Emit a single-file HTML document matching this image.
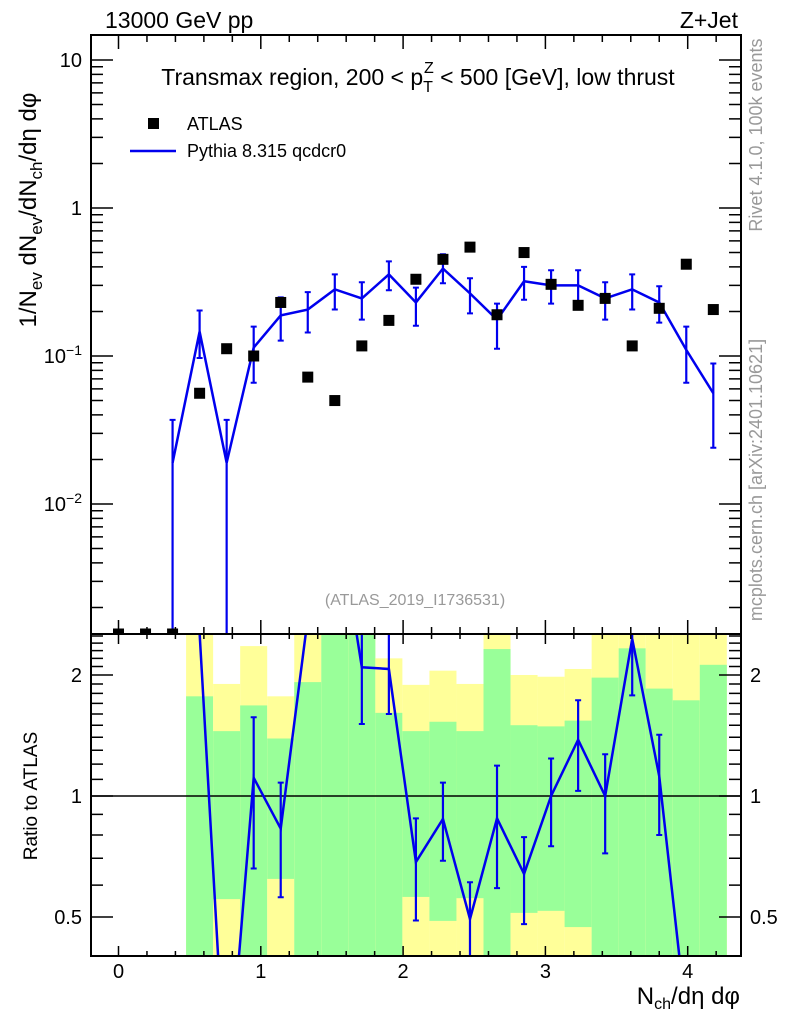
<!DOCTYPE html>
<html><head><meta charset="utf-8">
<style>
html,body{margin:0;padding:0;background:#fff;overflow:hidden;}
svg{display:block;font-family:"Liberation Sans",sans-serif;}
</style></head>
<body>
<svg id="chart" width="786" height="1024" viewBox="0 0 786 1024" xmlns="http://www.w3.org/2000/svg">
<defs>
<clipPath id="clipMain"><rect x="91" y="35" width="650" height="599"/></clipPath>
<clipPath id="clipRatio"><rect x="91" y="634" width="650" height="322"/></clipPath>
</defs>
<text x="105" y="28" font-size="23">13000 GeV pp</text>
<text x="738" y="28" font-size="23" text-anchor="end">Z+Jet</text>
<g id="ratioBands" clip-path="url(#clipRatio)"></g>
<g id="mainMarks" clip-path="url(#clipMain)"></g>
<g id="ratioMarks" clip-path="url(#clipRatio)"></g>
<g id="axes"></g>
<text x="418" y="85" font-size="23" text-anchor="middle">Transmax region, 200 &lt; p<tspan font-size="16" dy="7">T</tspan><tspan font-size="16" dx="-9" dy="-19">Z</tspan><tspan dy="12"> &lt; 500 [GeV], low thrust</tspan></text>
<rect x="148" y="118" width="11" height="11" fill="#000"/>
<text x="187" y="130" font-size="18">ATLAS</text>
<line x1="130" y1="151" x2="176" y2="151" stroke="#0000ee" stroke-width="2.5"/>
<text x="187" y="157" font-size="18">Pythia 8.315 qcdcr0</text>
<text x="415" y="605" font-size="16" fill="#999" text-anchor="middle">(ATLAS_2019_I1736531)</text>
<text transform="translate(36,210) rotate(-90)" font-size="24" text-anchor="middle">1/N<tspan font-size="17" dy="6">ev</tspan><tspan dy="-6"> dN</tspan><tspan font-size="17" dy="6">ev</tspan><tspan dy="-6">/dN</tspan><tspan font-size="17" dy="6">ch</tspan><tspan dy="-6">/dη dφ</tspan></text>
<text transform="translate(37,796) rotate(-90)" font-size="19" text-anchor="middle">Ratio to ATLAS</text>
<text x="740" y="1004" font-size="24" text-anchor="end">N<tspan font-size="16" dy="5">ch</tspan><tspan dy="-5">/dη dφ</tspan></text>
<text transform="translate(762,135) rotate(-90)" font-size="18" fill="#999" text-anchor="middle">Rivet 4.1.0,  100k events</text>
<text transform="translate(762,480) rotate(-90)" font-size="18" fill="#999" text-anchor="middle">mcplots.cern.ch [arXiv:2401.10621]</text>
</svg>
<script>
// ---- data ----
const binStep = 0.19;
const atlasIndex = [0,1,2,3,4,5,6,7,8,9,10,11,12,13,14,15,16,17,18,19,20,21,22];
const atlasValues = [0,0,0,0.056,0.112,0.10,0.23,0.072,0.05,0.117,0.174,0.33,0.45,0.544,0.19,0.50,0.305,0.22,0.245,0.117,0.21,0.417,0.206];
const pythiaIndex = [2,3,4,5,6,7,8,9,10,11,12,13,14,15,16,17,18,19,20,21,22];
const pythiaValues = [0.019,0.146,0.019,0.114,0.188,0.206,0.282,0.245,0.356,0.23,0.39,0.265,0.176,0.32,0.30,0.30,0.245,0.282,0.23,0.110,0.056];
const pythiaErrHi = [0.037,0.203,0.037,0.158,0.249,0.27,0.356,0.315,0.436,0.29,0.487,0.335,0.226,0.40,0.38,0.38,0.315,0.356,0.296,0.158,0.089];
const pythiaErrLo = [0.0001,0.097,0.0001,0.066,0.127,0.144,0.206,0.176,0.278,0.16,0.31,0.194,0.112,0.24,0.226,0.226,0.176,0.206,0.168,0.066,0.024];
const bandIndex = [3,4,5,6,7,8,9,10,11,12,13,14,15,16,17,18,19,20,21,22];
const yellowHi = [3,1.90,2.36,1.77,3,3,3,2.20,1.89,2.05,1.90,3,2.00,1.98,2.07,3,3,3,3,3];
const greenHi = [1.77,1.45,1.68,1.39,1.92,3,3,1.61,1.45,1.53,1.45,2.32,1.50,1.49,1.54,1.97,2.33,1.85,1.73,2.12];
const greenLo = [0.3,0.554,0.3,0.622,0.3,0.3,0.3,0.3,0.561,0.489,0.557,0.3,0.512,0.518,0.472,0.3,0.3,0.3,0.3,0.3];
const yellowLo = [0.3,0.3,0.3,0.3,0.3,0.3,0.3,0.3,0.3,0.3,0.3,0.3,0.3,0.3,0.3,0.3,0.3,0.3,0.3,0.3];
const ratioIndex = [3,4,5,6,7,8,9,10,11,12,13,14,15,16,17,18,19,20,21,22];
const ratioValues = [2.54,0.17,1.11,0.83,2.77,5.6,2.09,2.07,0.685,0.877,0.494,0.88,0.64,1.0,1.38,1.0,2.46,1.12,0.28,0.27];
const ratioErrHi = [null,null,1.57,1.08,null,null,3,3,0.88,1.08,0.61,1.19,0.79,1.24,1.73,1.27,3,1.42,null,null];
const ratioErrLo = [null,null,0.66,0.56,null,null,1.51,1.60,0.49,0.69,0.3,0.59,0.48,0.75,1.03,0.72,1.78,0.80,null,null];
const xTickLabels = ["0","1","2","3","4"];
const yMainTicks = [10,1,0.1,0.01];
const yMainTickLabels = ["10","1","10^-1","10^-2"];
const yRatioTicks = [2,1,0.5];
const yRatioTickLabels = ["2","1","0.5"];

// ---- scales ----
const X0 = 118.5, XU = 142.3;
function xs(v){ return X0 + v*XU; }
function ym(v){ return 208 - 148*Math.log10(v); }
function yr(v){ return 796 - 402*Math.log10(v); }
const L = 91, R = 741, T = 35, MID = 634, B = 956;
const NS = "http://www.w3.org/2000/svg";
function mk(parent, tag, attrs){
  const e = document.createElementNS(NS, tag);
  for (const k in attrs) e.setAttribute(k, attrs[k]);
  parent.appendChild(e);
  return e;
}
const gB = document.getElementById('ratioBands');
const gM = document.getElementById('mainMarks');
const gR = document.getElementById('ratioMarks');
const gA = document.getElementById('axes');

bandIndex.forEach((k,i)=>{
  const x1 = xs((k-0.5)*binStep), x2 = xs((k+0.5)*binStep);
  let e = mk(gB,'rect',{x:x1,y:yr(yellowHi[i]),width:x2-x1,height:yr(yellowLo[i])-yr(yellowHi[i]),fill:'#ffff99'});
  
  
  e = mk(gB,'rect',{x:x1,y:yr(greenHi[i]),width:x2-x1,height:yr(greenLo[i])-yr(greenHi[i]),fill:'#99ff99'});
  
  
});

pythiaIndex.forEach((k,i)=>{
  const x = xs(k*binStep);
  const y1 = ym(pythiaErrHi[i]), y2 = Math.min(ym(pythiaErrLo[i]), 700);
  let e = mk(gM,'line',{x1:x,x2:x,y1:y1,y2:y2,stroke:'#0000ee','stroke-width':2.2});
  
  
  e = mk(gM,'path',{d:`M${x-3},${y1}H${x+3}M${x-3},${y2}H${x+3}`,stroke:'#0000ee','stroke-width':2});
  
  
});
let pl = mk(gM,'polyline',{points:pythiaIndex.map((k,i)=>xs(k*binStep)+','+ym(pythiaValues[i])).join(' '),fill:'none',stroke:'#0000ee','stroke-width':2.5});


atlasIndex.forEach((k,i)=>{
  const v = atlasValues[i];
  const y = v>0 ? ym(v) : MID;
  const e = mk(gM,'rect',{x:xs(k*binStep)-5.5,y:y-5.5,width:11,height:11,fill:'#000'});
  
  
});
mk(gR,'line',{x1:L,x2:R,y1:yr(1),y2:yr(1),stroke:'#000','stroke-width':1.5});
ratioIndex.forEach((k,i)=>{
  if (ratioErrHi[i]==null) return;
  const x = xs(k*binStep);
  const y1 = yr(ratioErrHi[i]), y2 = yr(ratioErrLo[i]);
  let e = mk(gR,'line',{x1:x,x2:x,y1:y1,y2:y2,stroke:'#0000ee','stroke-width':2.2});
  
  
  e = mk(gR,'path',{d:`M${x-3},${y1}H${x+3}M${x-3},${y2}H${x+3}`,stroke:'#0000ee','stroke-width':2});
  
  
});
let rl = mk(gR,'polyline',{points:ratioIndex.map((k,i)=>xs(k*binStep)+','+yr(ratioValues[i])).join(' '),fill:'none',stroke:'#0000ee','stroke-width':2.5});



let f = mk(gA,'rect',{x:L,y:T,width:R-L,height:MID-T,fill:'none',stroke:'#000','stroke-width':2});


f = mk(gA,'rect',{x:L,y:MID,width:R-L,height:B-MID,fill:'none',stroke:'#000','stroke-width':2});



let d = '';
for (let i=-0.8;i<=4.41;i+=0.2){
  const v = Math.round(i*10)/10;
  if (v < -0.19 || v > 4.37) continue;
  const major = Math.abs(v-Math.round(v))<1e-6;
  const x = xs(v);
  const lm = major?14:7, lr = major?10:5;
  d += `M${x},${T}v${lm}M${x},${MID}v${-lm}M${x},${MID}v${lr}M${x},${B}v${-lr}`;
}
for (let e10=-3;e10<=1;e10++){
  for (let m=1;m<=9;m++){
    const v = m*Math.pow(10,e10);
    const y = ym(v);
    if (y < T || y > MID) continue;
    const len = m===1?22:12;
    d += `M${L},${y}h${len}M${R},${y}h${-len}`;
  }
}
[0.4,0.5,0.6,0.7,0.8,0.9,1,1.1,1.2,1.3,1.4,1.5,1.6,1.7,1.8,1.9,2,2.1,2.2,2.3,2.4,2.5].forEach(v=>{
  const y = yr(v);
  if (y < MID || y > B) return;
  const major = (v===0.5||v===1||v===2);
  const len = major?22:12;
  d += `M${L},${y}h${len}M${R},${y}h${-len}`;
});
let tp = mk(gA,'path',{d:d,stroke:'#000','stroke-width':1.5,fill:'none'});



xTickLabels.forEach((s,i)=>{
  const t = mk(gA,'text',{x:xs(i),y:978,'font-size':20,'text-anchor':'middle'});
  t.textContent = s;
  
  
});
yMainTicks.forEach((v,i)=>{
  const t = mk(gA,'text',{x:82,y:ym(v)+7,'font-size':20,'text-anchor':'end'});
  const parts = yMainTickLabels[i].split('^');
  if (parts.length===2){
    t.textContent = parts[0];
    const sp = mk(t,'tspan',{'font-size':14,dy:-8});
    sp.textContent = parts[1].replace('-','\u2212');
  } else t.textContent = parts[0];
  
  
});
yRatioTicks.forEach((v,i)=>{
  let t = mk(gA,'text',{x:82,y:yr(v)+7,'font-size':20,'text-anchor':'end'});
  t.textContent = yRatioTickLabels[i];
  
  
  t = mk(gA,'text',{x:750,y:yr(v)+7,'font-size':20,'text-anchor':'start'});
  t.textContent = yRatioTickLabels[i];
  
  
});
</script>
</body></html>
